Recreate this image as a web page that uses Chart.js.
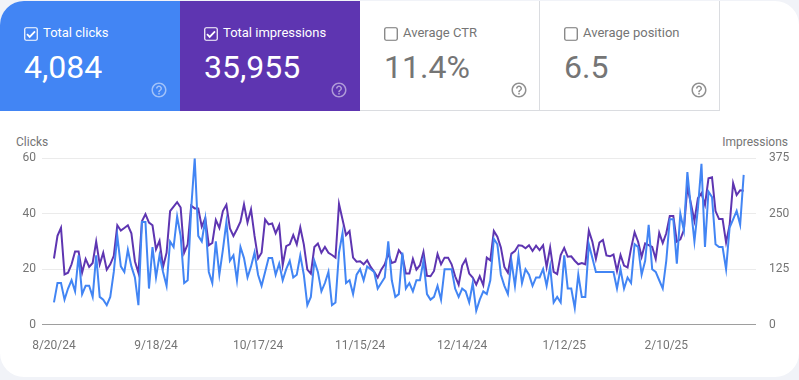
<!DOCTYPE html>
<html>
<head>
<meta charset="utf-8">
<title>Search performance</title>
<script src="https://cdn.jsdelivr.net/npm/chart.js@4"></script>
<style>
html, body { margin: 0; padding: 0; width: 799px; height: 380px; overflow: hidden; background: #f1f3f8; font-family: Roboto, sans-serif; }
#card { position: absolute; left: 0; top: 1px; width: 799px; height: 376px; background: #fff; border-radius: 24px; overflow: hidden; }
.tile { position: absolute; top: 0; width: 180px; height: 110px; box-sizing: border-box; color: #757575; }
.tile.on { color: #fff; }
.tile.off { border-right: 1px solid #dadce0; border-bottom: 1px solid #dadce0; }
.tile .lbl { position: absolute; left: 43px; top: 22.5px; font-size: 13px; line-height: 18px; white-space: nowrap; }
.tile .num { position: absolute; left: 24px; top: 46px; font-size: 32px; line-height: 40px; white-space: nowrap; }
.tile .box { position: absolute; left: 23.5px; top: 25.5px; }
.tile .help { position: absolute; left: 150px; top: 80px; opacity: .5; }
.tile.off .help { opacity: .8; }
.axt { position: absolute; top: 134.5px; font-size: 12px; line-height: 14px; color: #757575; }
#wrap { position: absolute; left: 0; top: 130px; width: 799px; height: 230px; }
</style>
</head>
<body>
<div id="card"></div>
<div class="axt" style="left:16px">Clicks</div>
<div class="axt" style="right:11px">Impressions</div>
<div id="wrap"><canvas id="chart" width="799" height="230"></canvas></div>
<script>
var tileNames = ["Total clicks", "Total impressions", "Average CTR", "Average position"];
var tileValues = ["4,084", "35,955", "11.4%", "6.5"];
var tileColors = ["#4285f4", "#5e35b1", "", ""];

var tickLabels = ["8/20/24", "9/18/24", "10/17/24", "11/15/24", "12/14/24", "1/12/25", "2/10/25"];
var clicksTicks = [0, 20, 40, 60];
var imprTicks = [0, 125, 250, 375];

var clicks = [
  8, 15, 15, 9, 13, 16, 12, 25, 11, 14, 14, 10, 25, 10, 9, 7, 10, 19, 32, 21,
  19, 27, 21, 17, 7, 37, 37, 13, 28, 17, 25, 19, 14, 30, 28, 39, 32, 15, 16, 42,
  60, 32, 30, 38, 19, 15, 30, 18, 27, 37, 23, 25, 16, 28, 24, 17, 21, 26, 18, 14,
  19, 24, 24, 18, 22, 16, 20, 23, 17, 18, 25, 18, 7, 10, 23, 19, 12, 15, 19, 7,
  8, 26, 33, 15, 16, 11, 18, 20, 16, 21, 20, 19, 13, 15, 17, 30, 16, 10, 11, 26,
  13, 15, 12, 16, 16, 23, 11, 9, 10, 14, 9, 20, 20, 20, 13, 10, 13, 12, 8, 15,
  5, 9, 12, 11, 16, 31, 29, 18, 14, 11, 23, 14, 25, 15, 20, 18, 14, 17, 17, 20,
  14, 21, 8, 10, 8, 25, 13, 13, 6, 18, 10, 10, 29, 24, 19, 19, 19, 19, 19, 19,
  13, 20, 13, 17, 15, 29, 28, 18, 23, 36, 20, 19, 16, 13, 23, 38, 38, 22, 40, 34,
  55, 42, 30, 42, 58, 28, 48, 46, 29, 28, 28, 20, 35, 38, 41, 36, 54
];
var impressions = [
  149, 200, 218, 113, 117, 136, 165, 165, 117, 148, 130, 139, 187, 136, 162, 124, 136, 155, 224, 212,
  218, 224, 206, 143, 117, 233, 249, 230, 224, 170, 189, 130, 162, 256, 266, 276, 264, 162, 181, 268,
  262, 262, 221, 240, 179, 184, 236, 218, 256, 270, 217, 200, 215, 232, 271, 230, 260, 200, 149, 162,
  237, 226, 228, 206, 224, 134, 177, 181, 202, 181, 219, 181, 124, 115, 175, 183, 162, 175, 162, 157,
  151, 272, 237, 202, 211, 151, 142, 143, 136, 145, 130, 119, 106, 124, 136, 160, 139, 142, 168, 157,
  115, 115, 148, 124, 134, 164, 110, 109, 121, 159, 136, 151, 151, 136, 109, 90, 133, 147, 115, 106,
  90, 109, 89, 151, 145, 211, 198, 174, 130, 117, 160, 166, 179, 178, 172, 179, 166, 178, 168, 179,
  130, 174, 119, 114, 157, 173, 153, 154, 144, 136, 139, 136, 212, 187, 148, 185, 191, 156, 154, 158,
  121, 157, 133, 129, 172, 208, 187, 153, 183, 179, 175, 148, 207, 184, 206, 245, 245, 187, 192, 213,
  311, 273, 234, 285, 296, 270, 330, 332, 256, 238, 238, 185, 224, 319, 292, 303, 302
];
var tickEvery = 29;
var days = clicks.map(function(v, i) { return i; });

// tiles above the chart
var helpPath = "M11 18h2v-2h-2v2zm1-16C6.48 2 2 6.48 2 12s4.48 10 10 10 10-4.48 10-10S17.52 2 12 2zm0 18c-4.41 0-8-3.59-8-8s3.59-8 8-8 8 3.59 8 8-3.59 8-8 8zm0-14c-2.21 0-4 1.79-4 4h2c0-1.1.9-2 2-2s2 .9 2 2c0 2-3 1.75-3 5h2c0-2.25 3-2.5 3-5 0-2.21-1.79-4-4-4z";
var html = "";
tileNames.forEach(function(name, i) {
  var on = !!tileColors[i];
  var col = on ? "#fff" : "#757575";
  html += '<div class="tile ' + (on ? "on" : "off") + '" style="left:' + (i * 180) + 'px;' + (on ? "background:" + tileColors[i] : "") + '">';
  html += '<svg class="box" width="14" height="14" viewBox="0 0 14 14"><rect x=".75" y=".75" width="12.5" height="12.5" rx="1.5" fill="none" stroke="' + col + '" stroke-width="1.2"/>';
  if (on) html += '<path d="M3 7.2l2.7 2.7L11 4.4" fill="none" stroke="#fff" stroke-width="1.8"/>';
  html += '</svg>';
  html += '<div class="lbl">' + name + '</div><div class="num">' + tileValues[i] + '</div>';
  html += '<svg class="help" width="18" height="18" viewBox="0 0 24 24"><path fill="' + col + '" d="' + helpPath + '"/></svg>';
  html += '</div>';
});
document.getElementById("card").innerHTML = html;

var labelFont = { family: "Roboto", size: 12 };
new Chart(document.getElementById("chart").getContext("2d"), {
  type: "line",
  data: {
    labels: days,
    datasets: [
      { label: "Clicks", data: clicks, yAxisID: "y", borderColor: "#4285f4", borderWidth: 2, pointRadius: 0, tension: 0 },
      { label: "Impressions", data: impressions, yAxisID: "y1", borderColor: "#5e35b1", borderWidth: 2, pointRadius: 0, tension: 0 }
    ]
  },
  options: {
    responsive: false,
    animation: false,
    layout: { padding: { top: 28.3, bottom: 0, left: 0, right: 0 } },
    plugins: { legend: { display: false }, tooltip: { enabled: false } },
    scales: {
      x: {
        type: "linear",
        min: -3.4,
        max: 199.5,
        border: { display: false },
        grid: { display: false },
        afterBuildTicks: function(axis) {
          axis.ticks = tickLabels.map(function(l, i) { return { value: i * tickEvery }; });
        },
        ticks: {
          autoSkip: false,
          maxRotation: 0,
          padding: 6.5,
          color: "#757575",
          font: labelFont,
          callback: function(v) { return tickLabels[v / tickEvery]; }
        }
      },
      y: {
        position: "left",
        min: 0,
        max: 60,
        border: { display: false },
        grid: {
          drawTicks: false,
          color: function(c) { return c.tick.value === 0 ? "#9e9e9e" : "#ebebeb"; }
        },
        afterBuildTicks: function(axis) { axis.ticks = clicksTicks.map(function(v) { return { value: v }; }); },
        afterFit: function(axis) { axis.width = 42; },
        ticks: { padding: 6, color: "#757575", font: labelFont }
      },
      y1: {
        position: "right",
        min: 0,
        max: 375,
        border: { display: false },
        grid: { display: false },
        afterBuildTicks: function(axis) { axis.ticks = imprTicks.map(function(v) { return { value: v }; }); },
        afterFit: function(axis) { axis.width = 43; },
        ticks: { padding: 5, color: "#757575", font: labelFont }
      }
    }
  }
});
</script>
</body>
</html>
